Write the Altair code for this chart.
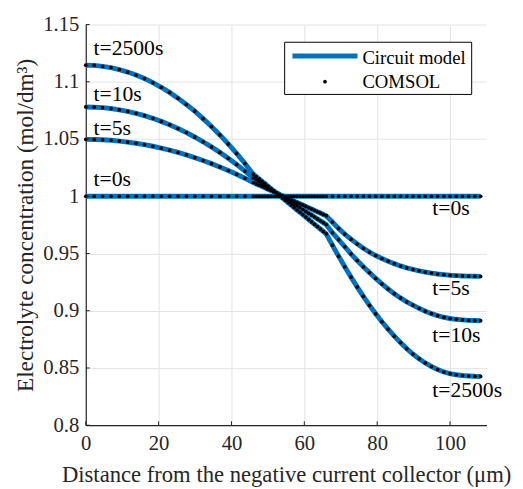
import altair as alt
import pandas as pd

# ---------------- data ----------------
x_um = [0.0, 2.3, 4.6, 6.9, 9.2, 11.5, 13.8, 16.1, 18.4, 20.7, 23.0, 25.3, 27.6, 29.9, 32.2, 34.5, 36.8, 39.1, 41.4, 43.7, 46.0,
        46.8, 47.6, 48.4, 49.2, 50.0, 50.8, 51.6, 52.4, 53.2, 54.0, 54.8, 55.6, 56.4, 57.2, 58.0, 58.8, 59.6, 60.4, 61.2,
        62.0, 62.8, 63.6, 64.4, 65.2, 66.0,
        67.7, 69.4, 71.1, 72.8, 74.5, 76.2, 77.9, 79.6, 81.3, 83.0, 84.7, 86.4, 88.1, 89.8, 91.5, 93.2, 94.9, 96.6, 98.3,
        100.0, 101.7, 103.4, 105.1, 106.8, 108.4]

c_t0 = [1.0, 1.0, 1.0, 1.0, 1.0, 1.0, 1.0, 1.0, 1.0, 1.0, 1.0, 1.0, 1.0, 1.0, 1.0, 1.0, 1.0, 1.0, 1.0, 1.0, 1.0,
        1.0, 1.0, 1.0, 1.0, 1.0, 1.0, 1.0, 1.0, 1.0, 1.0, 1.0, 1.0, 1.0, 1.0, 1.0, 1.0, 1.0, 1.0, 1.0,
        1.0, 1.0, 1.0, 1.0, 1.0, 1.0,
        1.0, 1.0, 1.0, 1.0, 1.0, 1.0, 1.0, 1.0, 1.0, 1.0, 1.0, 1.0, 1.0, 1.0, 1.0, 1.0, 1.0, 1.0, 1.0,
        1.0, 1.0, 1.0, 1.0, 1.0, 1.0]

c_t5 = [1.0497, 1.0496, 1.0493, 1.0489, 1.0482, 1.0473, 1.0463, 1.0451, 1.0437, 1.0421, 1.0403, 1.0383, 1.0361,
        1.0338, 1.0312, 1.0285, 1.0256, 1.0225, 1.0192, 1.0157, 1.0120,
        1.0108, 1.0097, 1.0085, 1.0074, 1.0062, 1.0050, 1.0039, 1.0027, 1.0015, 1.0004, 0.9992, 0.9981, 0.9969, 0.9957,
        0.9946, 0.9934, 0.9923, 0.9911, 0.9899, 0.9888, 0.9876, 0.9864, 0.9853, 0.9841, 0.9830,
        0.9775, 0.9719, 0.9670, 0.9625, 0.9584, 0.9546, 0.9512, 0.9482, 0.9456, 0.9433, 0.9411, 0.9391, 0.9374,
        0.9361, 0.9349, 0.9338, 0.9329, 0.9321, 0.9315, 0.9310, 0.9307, 0.9304, 0.9302, 0.9301, 0.9300]

c_t10 = [1.0780, 1.0778, 1.0774, 1.0766, 1.0755, 1.0741, 1.0724, 1.0704, 1.0681, 1.0654, 1.0625, 1.0592, 1.0557,
         1.0518, 1.0476, 1.0431, 1.0383, 1.0332, 1.0278, 1.0220, 1.0160,
         1.0144, 1.0128, 1.0111, 1.0095, 1.0079, 1.0062, 1.0046, 1.0030, 1.0014, 0.9998, 0.9981, 0.9965, 0.9949, 0.9932,
         0.9916, 0.9900, 0.9884, 0.9867, 0.9851, 0.9835, 0.9819, 0.9802, 0.9786, 0.9770, 0.9753,
         0.9682, 0.9621, 0.9559, 0.9497, 0.9439, 0.9384, 0.9333, 0.9282, 0.9234, 0.9190, 0.9149, 0.9112, 0.9078,
         0.9049, 0.9021, 0.8996, 0.8975, 0.8957, 0.8943, 0.8932, 0.8925, 0.8920, 0.8916, 0.8914, 0.8913]

c_t2500 = [1.1145, 1.1143, 1.1135, 1.1124, 1.1107, 1.1085, 1.1059, 1.1028, 1.0993, 1.0952, 1.0907, 1.0857, 1.0802,
           1.0743, 1.0678, 1.0609, 1.0536, 1.0457, 1.0374, 1.0286, 1.0193,
           1.0172, 1.0151, 1.0130, 1.0110, 1.0089, 1.0068, 1.0047, 1.0026, 1.0005, 0.9984, 0.9964, 0.9943, 0.9922, 0.9901,
           0.9880, 0.9860, 0.9839, 0.9818, 0.9797, 0.9776, 0.9755, 0.9735, 0.9714, 0.9693, 0.9672,
           0.9573, 0.9477, 0.9384, 0.9294, 0.9208, 0.9126, 0.9047, 0.8973, 0.8904, 0.8839, 0.8778, 0.8722, 0.8669,
           0.8622, 0.8581, 0.8544, 0.8513, 0.8486, 0.8465, 0.8450, 0.8441, 0.8434, 0.8430, 0.8427, 0.8426]

series_names = ["t=0s", "t=5s", "t=10s", "t=2500s"]
series_vals = [c_t0, c_t5, c_t10, c_t2500]

x_ticks = [0, 20, 40, 60, 80, 100]
y_ticks = [0.8, 0.85, 0.9, 0.95, 1.0, 1.05, 1.1, 1.15]

label_text = ["t=2500s", "t=10s", "t=5s", "t=0s", "t=0s", "t=5s", "t=10s", "t=2500s"]
label_x = [2.1, 2.1, 2.1, 2.1, 95.1, 95.1, 95.1, 95.1]
label_y = [1.1233, 1.0833, 1.0537, 1.0087, 0.9835, 0.9135, 0.8731, 0.8247]

legend_names = ["Circuit model", "COMSOL"]

# ---------------- build tables ----------------
rows = []
for name, vals in zip(series_names, series_vals):
    for xv, cv in zip(x_um, vals):
        rows.append({"x": xv, "c": cv, "series": name})
df = pd.DataFrame(rows)
labels_df = pd.DataFrame({"x": label_x, "y": label_y, "text": label_text})
xt_df = pd.DataFrame({"x": x_ticks})
yt_df = pd.DataFrame({"y": y_ticks})
one = pd.DataFrame({"k": [0]})

FONT = "Liberation Serif"
INK = "#262626"
BLUE = "#0072BD"
W, H = 407, 407

xscale = alt.Scale(domain=[0, 110], nice=False, zero=False)
yscale = alt.Scale(domain=[0.8, 1.15], nice=False, zero=False)

xaxis = alt.Axis(values=x_ticks, title="Distance from the negative current collector (μm)",
                 labelFont=FONT, titleFont=FONT, labelColor=INK, titleColor=INK,
                 titleFontWeight="normal",
                 labelFontSize=21, titleFontSize=23, labelPadding=8, titlePadding=10,
                 labelFlush=False)
yaxis = alt.Axis(values=y_ticks, format="~g", title="Electrolyte concentration (mol/dm³)",
                 labelFont=FONT, titleFont=FONT, labelColor=INK, titleColor=INK,
                 titleFontWeight="normal",
                 labelFontSize=21, titleFontSize=23.5, labelPadding=7, titlePadding=5)

base = alt.Chart(df)
lines = base.mark_line(color=BLUE, strokeWidth=5, clip=True).encode(
    x=alt.X("x:Q", scale=xscale, axis=xaxis),
    y=alt.Y("c:Q", scale=yscale, axis=yaxis),
    detail="series:N",
)
points = base.mark_circle(color="black", opacity=1, size=14).encode(
    x=alt.X("x:Q", scale=xscale),
    y=alt.Y("c:Q", scale=yscale),
)

labels = alt.Chart(labels_df).mark_text(font=FONT, fontSize=22, align="left", baseline="alphabetic",
                                        color="black").encode(
    x=alt.X("x:Q", scale=xscale), y=alt.Y("y:Q", scale=yscale), text="text:N")

xticks = alt.Chart(xt_df).mark_rule(color=INK, strokeWidth=1).encode(
    x=alt.X("x:Q", scale=xscale), y=alt.value(H), y2=alt.value(H - 4))
yticks = alt.Chart(yt_df).mark_rule(color=INK, strokeWidth=1).encode(
    y=alt.Y("y:Q", scale=yscale), x=alt.value(0), x2=alt.value(4))

# legend (drawn manually, MATLAB style)
leg_box = alt.Chart(one).mark_rect(fill="white", stroke="black", strokeWidth=1).encode(
    x=alt.value(202), x2=alt.value(392), y=alt.value(18), y2=alt.value(71))
leg_line = alt.Chart(one).mark_rule(color=BLUE, strokeWidth=5).encode(
    x=alt.value(210), x2=alt.value(276), y=alt.value(32))
leg_dot = alt.Chart(one).mark_circle(color="black", opacity=1, size=14).encode(
    x=alt.value(243), y=alt.value(58))
leg_t1 = alt.Chart(one).mark_text(font=FONT, fontSize=19, align="left", baseline="alphabetic",
                                  text=legend_names[0], color="black").encode(
    x=alt.value(281), y=alt.value(40))
leg_t2 = alt.Chart(one).mark_text(font=FONT, fontSize=19, align="left", baseline="alphabetic",
                                  text=legend_names[1], color="black").encode(
    x=alt.value(281), y=alt.value(64))

chart = alt.layer(
    lines, points, labels, xticks, yticks, leg_box, leg_line, leg_dot, leg_t1, leg_t2
).properties(
    width=W, height=H,
    autosize=alt.AutoSizeParams(type="none"),
    padding={"left": 79, "top": 13, "right": 29, "bottom": 61},
).configure(font=FONT).configure_axis(
    labelFont=FONT, titleFont=FONT, labelColor=INK, titleColor=INK,
    titleFontWeight="normal", domainColor=INK, domainWidth=1.2,
    ticks=False, grid=True, gridColor="#e3e3e3", gridWidth=1,
).configure_view(strokeWidth=0)

chart.save("out.html", embed_options={"renderer": "svg", "actions": False})
